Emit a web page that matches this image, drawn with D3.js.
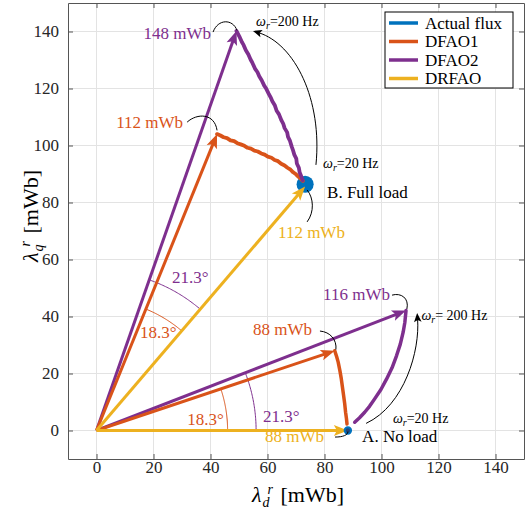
<!DOCTYPE html>
<html><head><meta charset="utf-8">
<script src="https://cdn.jsdelivr.net/npm/d3@7"></script>
<style>body{margin:0;background:#fff}svg{display:block}</style>
</head><body><svg id="c" width="529" height="510" font-family="Liberation Serif, Tinos, Times New Roman, DejaVu Serif, serif"></svg>
<script>
// ---------- data ----------
const xTicks = [0, 20, 40, 60, 80, 100, 120, 140];
const yTicks = [0, 20, 40, 60, 80, 100, 120, 140];
const seriesNames = ["Actual flux", "DFAO1", "DFAO2", "DRFAO"];
const seriesColors = ["#0072BD", "#D95319", "#7E2F8E", "#EDB120"];

// flux vector tips [λd, λq] (mWb)
const noLoadDRFAO = [88.2, 0];
const noLoadDFAO1 = [83.6, 28.0];
const noLoadDFAO2 = [108.6, 42.1];
const fullLoadDRFAO = [73.2, 85.6];
const fullLoadDFAO1 = [42.3, 104.0];
const fullLoadDFAO2 = [49.1, 140.2];
// actual flux centres
const actualNoLoad = [88.2, 0];
const actualFullLoad = [73.2, 86.4];

// trajectories (ωr from 200 Hz to 20 Hz)
const trajFullDFAO2 = [[49.1,140.2],[50.1,138.3],[51.0,136.3],[51.6,135.3],[52.4,133.4],[53.3,131.9],[54.1,130.1],[54.6,129.2],[55.6,127.0],[56.5,125.7],[57.1,124.3],[58.0,122.8],[58.8,121.1],[59.4,120.2],[60.4,118.2],[61.1,116.9],[61.7,115.5],[62.6,114.0],[63.2,112.2],[64.0,111.0],[64.9,108.8],[65.5,107.7],[66.0,106.1],[66.9,104.6],[67.2,103.0],[67.9,101.6],[68.5,99.6],[68.9,98.5],[69.4,96.8],[70.1,95.4],[70.3,93.7],[71.0,92.2],[71.3,90.5],[71.8,89.3],[72.3,87.8]];
const trajFullDFAO1 = [[42.3,104.0],[43.5,103.5],[44.6,102.9],[45.8,102.6],[47.0,101.8],[48.3,101.5],[49.4,100.8],[50.6,100.4],[51.9,99.9],[53.0,99.2],[54.2,98.9],[55.4,98.2],[56.6,97.9],[57.8,97.2],[59.0,96.8],[60.1,96.1],[61.4,95.7],[62.5,94.9],[63.7,94.5],[64.8,93.6],[66.0,93.0],[67.0,92.2],[68.1,91.5],[69.0,90.6],[70.0,89.9],[70.9,89.0],[71.7,88.3],[72.4,87.6]];
const trajNoDFAO2 = [[108.6,42.1],[108.2,38.0],[107.6,34.5],[106.6,30.3],[105.3,26.3],[103.7,22.0],[101.8,18.1],[99.8,14.4],[97.6,11.1],[95.8,8.5],[94.1,6.4],[92.3,4.5],[90.6,2.9]];
const trajNoDFAO1 = [[83.6,28.0],[84.3,25.8],[84.8,24.0],[85.4,21.0],[85.9,18.1],[86.3,15.2],[86.7,12.3],[87.1,9.3],[87.4,6.4],[87.7,4.2],[87.9,2.3]];

// angle labels
const angleDFAO1 = 18.3, angleDFAO2 = 21.3;
const magLabels = ["148 mWb","112 mWb","112 mWb","116 mWb","88 mWb","88 mWb"];

// ---------- layout ----------
const svg = d3.select("#c");
const M = {l:68, t:3, w:456, h:456};
const x = d3.scaleLinear().domain([-10,150]).range([M.l, M.l+M.w]);
const y = d3.scaleLinear().domain([-10,150]).range([M.t+M.h, M.t]);
const FONT = "Liberation Serif, Tinos, Times New Roman, DejaVu Serif, serif";
const [cBlue, cOrange, cPurple, cYellow] = seriesColors;

svg.append("rect").attr("width",529).attr("height",510).attr("fill","#fff");
const g = svg.append("g");

// grid
g.selectAll(".gx").data(xTicks).join("line").attr("x1",d=>x(d)).attr("x2",d=>x(d))
  .attr("y1",M.t).attr("y2",M.t+M.h).attr("stroke","#e3e3e3").attr("stroke-width",1);
g.selectAll(".gy").data(yTicks).join("line").attr("y1",d=>y(d)).attr("y2",d=>y(d))
  .attr("x1",M.l).attr("x2",M.l+M.w).attr("stroke","#e3e3e3").attr("stroke-width",1);

// axes
const ax = d3.axisBottom(x).tickValues(xTicks).tickSize(-5).tickSizeOuter(0).tickPadding(2);
const ay = d3.axisLeft(y).tickValues(yTicks).tickSize(-5).tickSizeOuter(0).tickPadding(9);
const axT = d3.axisTop(x).tickValues(xTicks).tickSize(-5).tickSizeOuter(0).tickFormat("");
const ayR = d3.axisRight(y).tickValues(yTicks).tickSize(-5).tickSizeOuter(0).tickFormat("");
function styleAxis(s){ s.attr("font-family",FONT).attr("font-size",17);
  s.select(".domain").attr("stroke","#555"); s.selectAll(".tick line").attr("stroke","#555");
  s.selectAll("text").attr("fill","#262626"); }
svg.append("g").attr("transform",`translate(0,${M.t+M.h})`).call(ax).call(styleAxis);
svg.append("g").attr("transform",`translate(${M.l},0)`).call(ay).call(styleAxis);
svg.append("g").attr("transform",`translate(0,${M.t})`).call(axT).call(styleAxis);
svg.append("g").attr("transform",`translate(${M.l+M.w},0)`).call(ayR).call(styleAxis);

const P = p => [x(p[0]), y(p[1])];
const line = d3.line().x(d=>x(d[0])).y(d=>y(d[1]));

function head(tip, ang, color, L, W){
  const [tx,ty] = tip, c=Math.cos(ang), s=Math.sin(ang);
  const bx=tx-L*c, by=ty-L*s, nx=tx-L*0.78*c, ny=ty-L*0.78*s;
  const pts=[[tx,ty],[bx-W*s,by+W*c],[nx,ny],[bx+W*s,by-W*c]];
  g.append("path").attr("d","M"+pts.map(p=>p.join(",")).join("L")+"Z").attr("fill",color);
}
function arrow(tipData, color){
  const [ox,oy]=P([0,0]), [tx,ty]=P(tipData);
  const ang=Math.atan2(ty-oy,tx-ox), L=14;
  g.append("line").attr("x1",ox).attr("y1",oy).attr("x2",tx-L*0.7*Math.cos(ang)).attr("y2",ty-L*0.7*Math.sin(ang))
   .attr("stroke",color).attr("stroke-width",3);
  head([tx,ty],ang,color,L,5.5);
}
function arc(r, a0, a1, color){
  const pts=d3.range(0,41).map(i=>{const a=(a0+(a1-a0)*i/40)*Math.PI/180; return [r*Math.cos(a), r*Math.sin(a)];});
  g.append("path").attr("d",line(pts)).attr("fill","none").attr("stroke",color).attr("stroke-width",1);
}
function traj(pts, color, w){
  g.append("path").attr("d",line(pts)).attr("fill","none").attr("stroke",color).attr("stroke-width",w||3.5)
   .attr("stroke-linejoin","round").attr("stroke-linecap","round");
}
function callout(p0,c1,c2,p1){
  const a=P(p0),b=P(c1),c=P(c2),d=P(p1);
  g.append("path").attr("d",`M${a}C${b} ${c} ${d}`).attr("fill","none").attr("stroke","#000").attr("stroke-width",1);
}
function curvedArrow(p0,c1,c2,p1){
  const a=P(p0),b=P(c1),c=P(c2),d=P(p1);
  const ang=Math.atan2(d[1]-c[1],d[0]-c[0]);
  const e=[d[0]-6*Math.cos(ang), d[1]-6*Math.sin(ang)];
  g.append("path").attr("d",`M${a}C${b} ${c} ${e}`).attr("fill","none").attr("stroke","#000").attr("stroke-width",1);
  head(d,ang,"#000",9,3.8);
}
function label(pos, txt, color, anchor, size){
  g.append("text").attr("x",x(pos[0])).attr("y",y(pos[1])).attr("fill",color).attr("font-size",size||17)
   .attr("font-family",FONT).attr("text-anchor",anchor||"start").text(txt);
}
function omega(pos, rest){
  const t=g.append("text").attr("x",x(pos[0])).attr("y",y(pos[1])).attr("font-size",14).attr("fill","#000").attr("font-family",FONT);
  t.append("tspan").attr("font-style","italic").text("ω");
  t.append("tspan").attr("font-style","italic").attr("font-size",10).attr("dy",3).text("r");
  t.append("tspan").attr("dy",-3).text(rest);
}

// actual flux at full load (blob)
g.append("circle").attr("cx",x(actualFullLoad[0])).attr("cy",y(actualFullLoad[1])).attr("r",x(3)-x(0)).attr("fill",cBlue);

// angle arcs
const thF = Math.atan2(fullLoadDRFAO[1], fullLoadDRFAO[0])*180/Math.PI;
arc(56, thF, thF+angleDFAO2, cPurple);
arc(46, thF, thF+angleDFAO1, cOrange);
arc(56, 0, angleDFAO2, cPurple);
arc(46, 0, angleDFAO1, cOrange);

// trajectories
traj(trajFullDFAO1, cOrange, 3.8);
traj(trajFullDFAO2, cPurple, 3.8);
traj(trajNoDFAO1, cOrange);
traj(trajNoDFAO2, cPurple);

// vectors
arrow(noLoadDFAO2, cPurple);
arrow(noLoadDFAO1, cOrange);
arrow(fullLoadDFAO2, cPurple);
arrow(fullLoadDFAO1, cOrange);
arrow(noLoadDRFAO, cYellow);
arrow(fullLoadDRFAO, cYellow);

// actual flux at no load (small ring)
g.append("circle").attr("cx",x(actualNoLoad[0])).attr("cy",y(actualNoLoad[1])).attr("r",3.2)
 .attr("fill","#23457a").attr("stroke",cBlue).attr("stroke-width",2);

// magnitude labels + callouts
label([40.2,137.4], magLabels[0], cPurple, "end");
callout([40.9,139.8],[42.6,144.5],[47.8,144.5],[49.3,140.4]);
label([30.4,106.1], magLabels[1], cOrange, "end");
callout([31.8,108.2],[35.3,111.4],[41.4,111.4],[42.3,105.3]);
label([63.7,67.5], magLabels[2], cYellow, "start");
callout([73.9,73.2],[76.5,76.7],[76.2,81.6],[73.9,84.4]);
label([79.5,45.8], magLabels[3], cPurple, "start");
callout([103.7,47.5],[106.8,48.4],[109.8,46.5],[108.9,42.6]);
label([54.9,33.5], magLabels[4], cOrange, "start");
callout([78.4,34.9],[82.0,34.6],[84.4,31.8],[84.0,28.4]);
label([59.1,-4.0], magLabels[5], cYellow, "start");
callout([83.7,-2.3],[86.5,-2.3],[88.2,-1.6],[88.2,-0.4]);

// angle labels
label([26.5,51.8], angleDFAO2.toFixed(1)+"°", cPurple);
label([15.3,32.5], angleDFAO1.toFixed(1)+"°", cOrange);
label([58.4,3.0], angleDFAO2.toFixed(1)+"°", cPurple);
label([31.8,1.9], angleDFAO1.toFixed(1)+"°", cOrange);

// operating point labels
label([80.9,81.6], "B. Full load", "#000");
label([93.2,-4.0], "A. No load", "#000");

// speed annotations
omega([56.0,141.9], "=200 Hz");
omega([79.5,92.1], "=20 Hz");
omega([114.0,38.8], "= 200 Hz");
omega([104.0,2.6], "=20 Hz");
curvedArrow([77.0,93.2],[79.3,116],[69.6,135.6],[54.9,140.2]);
curvedArrow([94.6,2.5],[108.2,8.9],[113.5,28.2],[112.5,41.2]);

// legend
const lg = svg.append("g").attr("transform","translate(385,12)");
lg.append("rect").attr("width",128).attr("height",76).attr("fill","#fff").attr("stroke","#000").attr("stroke-width",1);
seriesNames.forEach((n,i)=>{
  const yy = 11 + i*18.5;
  lg.append("line").attr("x1",4).attr("x2",33).attr("y1",yy).attr("y2",yy).attr("stroke",seriesColors[i]).attr("stroke-width",3.5);
  lg.append("text").attr("x",40).attr("y",yy+5.5).attr("font-size",17).attr("font-family",FONT).attr("fill","#000").text(n);
});

// axis labels
const xl = svg.append("text").attr("x",298).attr("y",502).attr("text-anchor","middle").attr("font-size",22).attr("font-family",FONT).attr("fill","#000");
xl.append("tspan").attr("font-style","italic").text("λ");
xl.append("tspan").attr("font-style","italic").attr("font-size",14).attr("dx",1).attr("dy",5).text("d");
xl.append("tspan").attr("font-style","italic").attr("font-size",14).attr("dx",-2).attr("dy",-13).text("r");
xl.append("tspan").attr("dx",2).attr("dy",8).text(" [mWb]");
const yl = svg.append("text").attr("transform","translate(38,216) rotate(-90)").attr("text-anchor","middle").attr("font-size",22).attr("font-family",FONT).attr("fill","#000");
yl.append("tspan").attr("font-style","italic").text("λ");
yl.append("tspan").attr("font-style","italic").attr("font-size",14).attr("dx",1).attr("dy",5).text("q");
yl.append("tspan").attr("font-style","italic").attr("font-size",14).attr("dx",-2).attr("dy",-13).text("r");
yl.append("tspan").attr("dx",2).attr("dy",8).text(" [mWb]");
</script></body></html>
